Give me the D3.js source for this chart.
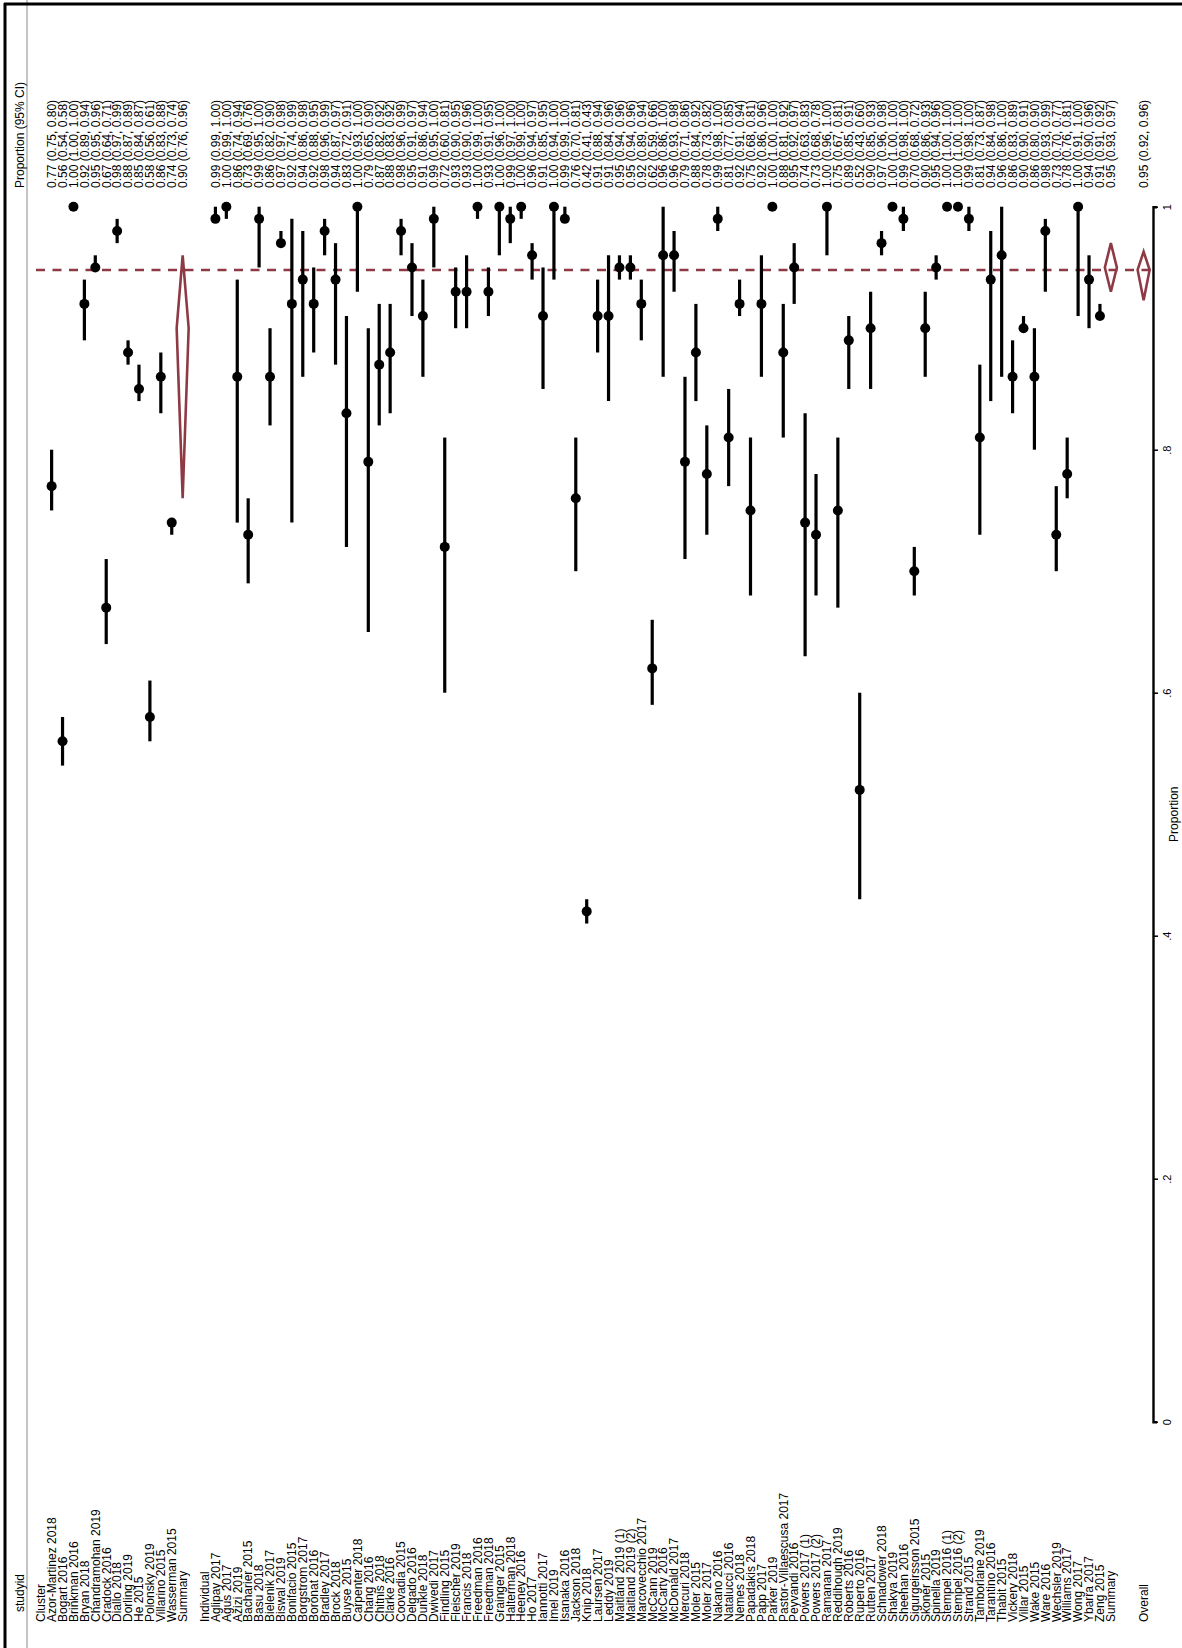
<!DOCTYPE html>
<html>
<head>
<meta charset="utf-8">
<script src="https://cdn.jsdelivr.net/npm/d3@7/dist/d3.min.js"></script>
<style>
    body { margin: 0; background: #ffffff; }
    text { font-family: "Liberation Sans", Arial, Helvetica, sans-serif; fill: #000; }
</style>
</head>
<body>
<div class="forest"></div>
<script>
"use strict";

//
/* Data: */
//

// Cluster trials
var clusterStudies = ["Azor-Martinez 2018", "Bogart 2016", "Brinkman 2016", "Bryan 2018", "Chandramohan 2019",
    "Cradock 2016", "Diallo 2018", "Dorling 2019", "He 2015", "Polonsky 2019", "Villarino 2015", "Wasserman 2015"];
var clusterEs = [0.77, 0.56, 1.00, 0.92, 0.95, 0.67, 0.98, 0.88, 0.85, 0.58, 0.86, 0.74];
var clusterLo = [0.75, 0.54, 1.00, 0.89, 0.95, 0.64, 0.97, 0.87, 0.84, 0.56, 0.83, 0.73];
var clusterHi = [0.80, 0.58, 1.00, 0.94, 0.96, 0.71, 0.99, 0.89, 0.87, 0.61, 0.88, 0.74];
var clusterSummary = [0.90, 0.76, 0.96];

// Individual trials
var individualStudies = ["Aglipay 2017", "Agus 2017", "Azizi 2019", "Bacharier 2015", "Basu 2018", "Bielenik 2017",
    "Biswal 2019", "Bonifacio 2015", "Borgstrom 2017", "Boronat 2016", "Bradley 2017", "Brock 2018", "Buyse 2015",
    "Carpenter 2018", "Chang 2016", "Chitnis 2018", "Clarke 2016", "Coovadia 2015", "Delgado 2016", "Dunkle 2018",
    "Dwivedi 2017", "Findling 2015", "Fleischer 2019", "Francis 2018", "Freedman 2016", "Freedman 2018",
    "Grainger 2015", "Halterman 2018", "Heeney 2016", "Ho 2017", "Iannotti 2017", "Imel 2019", "Isanaka 2016",
    "Jackson 2018", "Knip 2018", "Laursen 2017", "Leddy 2019", "Maitland 2019 (1)", "Maitland 2019 (2)",
    "Marcovecchio 2017", "McCann 2019", "McCarty 2016", "McDonald 2017", "Mercuri 2018", "Moler 2015", "Moler 2017",
    "Nakano 2016", "Natalucci 2016", "Nemes 2018", "Papadakis 2018", "Papp 2017", "Parker 2019",
    "Pastor-Villaescusa 2017", "Peyvandi 2016", "Powers 2017 (1)", "Powers 2017 (2)", "Ramanan 2017",
    "Reddihough 2019", "Roberts 2016", "Ruperto 2016", "Rutten 2017", "Schnadower 2018", "Shakya 2019",
    "Sheehan 2016", "Sigurgeirsson 2015", "Skoner 2015", "Spinella 2019", "Stempel 2016 (1)", "Stempel 2016 (2)",
    "Strand 2015", "Tamborlane 2019", "Tarantino 2016", "Thabit 2015", "Vickery 2018", "Villar 2015", "Wake 2015",
    "Ware 2016", "Wechsler 2019", "Williams 2017", "Wong 2017", "Ybarra 2017", "Zeng 2015"];
var individualEs = [0.99, 1.00, 0.86, 0.73, 0.99, 0.86, 0.97, 0.92, 0.94, 0.92, 0.98, 0.94, 0.83,
    1.00, 0.79, 0.87, 0.88, 0.98, 0.95, 0.91, 0.99, 0.72, 0.93, 0.93, 1.00, 0.93,
    1.00, 0.99, 1.00, 0.96, 0.91, 1.00, 0.99, 0.76, 0.42, 0.91, 0.91, 0.95, 0.95,
    0.92, 0.62, 0.96, 0.96, 0.79, 0.88, 0.78, 0.99, 0.81, 0.92, 0.75, 0.92, 1.00,
    0.88, 0.95, 0.74, 0.73, 1.00, 0.75, 0.89, 0.52, 0.90, 0.97, 1.00, 0.99, 0.70,
    0.90, 0.95, 1.00, 1.00, 0.99, 0.81, 0.94, 0.96, 0.86, 0.90, 0.86, 0.98, 0.73,
    0.78, 1.00, 0.94, 0.91];
var individualLo = [0.99, 0.99, 0.74, 0.69, 0.95, 0.82, 0.97, 0.74, 0.86, 0.88, 0.96, 0.87, 0.72,
    0.93, 0.65, 0.82, 0.83, 0.96, 0.91, 0.86, 0.95, 0.60, 0.90, 0.90, 0.99, 0.91,
    0.96, 0.97, 0.99, 0.94, 0.85, 0.94, 0.99, 0.70, 0.41, 0.88, 0.84, 0.94, 0.94,
    0.89, 0.59, 0.86, 0.93, 0.71, 0.84, 0.73, 0.98, 0.77, 0.91, 0.68, 0.86, 1.00,
    0.81, 0.92, 0.63, 0.68, 0.96, 0.67, 0.85, 0.43, 0.85, 0.96, 1.00, 0.98, 0.68,
    0.86, 0.94, 1.00, 1.00, 0.98, 0.73, 0.84, 0.86, 0.83, 0.90, 0.80, 0.93, 0.70,
    0.76, 0.91, 0.90, 0.91];
var individualHi = [1.00, 1.00, 0.94, 0.76, 1.00, 0.90, 0.98, 0.99, 0.98, 0.95, 0.99, 0.97, 0.91,
    1.00, 0.90, 0.92, 0.92, 0.99, 0.97, 0.94, 1.00, 0.81, 0.95, 0.96, 1.00, 0.95,
    1.00, 1.00, 1.00, 0.97, 0.95, 1.00, 1.00, 0.81, 0.43, 0.94, 0.96, 0.96, 0.96,
    0.94, 0.66, 1.00, 0.98, 0.86, 0.92, 0.82, 1.00, 0.85, 0.94, 0.81, 0.96, 1.00,
    0.92, 0.97, 0.83, 0.78, 1.00, 0.81, 0.91, 0.60, 0.93, 0.98, 1.00, 1.00, 0.72,
    0.93, 0.96, 1.00, 1.00, 1.00, 0.87, 0.98, 1.00, 0.89, 0.91, 0.90, 0.99, 0.77,
    0.81, 1.00, 0.96, 0.92];
var individualSummary = [0.95, 0.93, 0.97];

var overallSummary = [0.948, 0.923, 0.963];

var tickValues = [0, 0.2, 0.4, 0.6, 0.8, 1];
var tickLabels = ["0", ".2", ".4", ".6", ".8", "1"];

//
/* Layout */
//
var svgWidth = 1182;
var svgHeight = 1648;
var red = "#8e3a45";

var fmt = d3.format(".2f");

// build one list of rows, left to right
var rows = [];
rows.push({ label: "Cluster", type: "header" });
clusterStudies.forEach(function(s, i) {
    rows.push({ label: s, type: "study", es: clusterEs[i], lo: clusterLo[i], hi: clusterHi[i] });
});
rows.push({ label: "Summary", type: "summary", es: clusterSummary[0], lo: clusterSummary[1], hi: clusterSummary[2] });
rows.push({ label: "", type: "blank" });
rows.push({ label: "Individual", type: "header" });
individualStudies.forEach(function(s, i) {
    rows.push({ label: s, type: "study", es: individualEs[i], lo: individualLo[i], hi: individualHi[i] });
});
rows.push({ label: "Summary", type: "summary", es: individualSummary[0], lo: individualSummary[1], hi: individualSummary[2] });
rows.push({ label: "", type: "blank" });
rows.push({ label: "", type: "blank" });
rows.push({ label: "Overall", type: "summary", es: overallSummary[0], lo: overallSummary[1], hi: overallSummary[2] });

rows.forEach(function(d, i) { d.row = i; });

var x = d3.scaleLinear()
            .domain([0, rows.length - 1])
            .range([40.7, 40.7 + (rows.length - 1) * 10.92]);

var y = d3.scaleLinear()
            .domain([0, 1])
            .range([1421.7, 206.7]);

var svg = d3.select(".forest").append("svg")
            .attr("width", svgWidth)
            .attr("height", svgHeight);

svg.append("rect")
    .attr("width", svgWidth)
    .attr("height", svgHeight)
    .attr("fill", "#fff");

// frame lines
svg.append("line")
    .attr("x1", 27).attr("x2", 27).attr("y1", 0).attr("y2", svgHeight)
    .attr("stroke", "#c4c4c4").attr("stroke-width", 2);
svg.append("line")
    .attr("x1", 5).attr("x2", 5).attr("y1", 3).attr("y2", svgHeight)
    .attr("stroke", "#000").attr("stroke-width", 3);
svg.append("line")
    .attr("x1", 4).attr("x2", svgWidth).attr("y1", 4).attr("y2", 4)
    .attr("stroke", "#000").attr("stroke-width", 3);

// headers
svg.append("text")
    .attr("transform", "translate(24,188) rotate(-90)")
    .attr("font-size", "12px")
    .text("Proportion (95% CI)");
svg.append("text")
    .attr("transform", "translate(24,1612) rotate(-90)")
    .attr("font-size", "12px")
    .text("studyid");

// study labels
svg.selectAll(".label")
    .data(rows.filter(function(d) { return d.label !== ""; }))
    .enter()
    .append("text")
    .attr("class", "label")
    .attr("transform", function(d) { return "translate(" + (x(d.row) + 4.3) + ",1622) rotate(-90)"; })
    .attr("font-size", "12px")
    .text(function(d) { return d.label; });

// estimate text
svg.selectAll(".estText")
    .data(rows.filter(function(d) { return d.type === "study" || d.type === "summary"; }))
    .enter()
    .append("text")
    .attr("class", "estText")
    .attr("transform", function(d) { return "translate(" + (x(d.row) + 4.3) + ",188) rotate(-90)"; })
    .attr("font-size", "12px")
    .text(function(d) { return fmt(d.es) + " (" + fmt(d.lo) + ", " + fmt(d.hi) + ")"; });

// overall dashed line
svg.append("line")
    .attr("x1", 36)
    .attr("x2", 1153)
    .attr("y1", y(overallSummary[0]))
    .attr("y2", y(overallSummary[0]))
    .attr("stroke", red)
    .attr("stroke-width", 2.5)
    .attr("stroke-dasharray", "9,7.5");

var studies = rows.filter(function(d) { return d.type === "study"; });

// CI lines
svg.selectAll(".ci")
    .data(studies)
    .enter()
    .append("line")
    .attr("class", "ci")
    .attr("x1", function(d) { return x(d.row); })
    .attr("x2", function(d) { return x(d.row); })
    .attr("y1", function(d) { return y(d.lo); })
    .attr("y2", function(d) { return y(d.hi); })
    .attr("stroke", "#000")
    .attr("stroke-width", 3.2);

// point estimates
svg.selectAll(".dot")
    .data(studies)
    .enter()
    .append("circle")
    .attr("class", "dot")
    .attr("cx", function(d) { return x(d.row); })
    .attr("cy", function(d) { return y(d.es); })
    .attr("r", 5)
    .attr("fill", "#000");

// summary diamonds
svg.selectAll(".diamond")
    .data(rows.filter(function(d) { return d.type === "summary"; }))
    .enter()
    .append("path")
    .attr("class", "diamond")
    .attr("d", function(d) {
        var cx = x(d.row);
        return "M" + cx + "," + y(d.hi) + "L" + (cx + 6) + "," + y(d.es) +
               "L" + cx + "," + y(d.lo) + "L" + (cx - 6) + "," + y(d.es) + "Z";
    })
    .attr("fill", "none")
    .attr("stroke", red)
    .attr("stroke-width", 2.6)
    .attr("stroke-linejoin", "miter");

// proportion axis
var axis = d3.axisRight(y)
            .tickValues(tickValues)
            .tickFormat(function(d, i) { return tickLabels[i]; })
            .tickSize(5)
            .tickSizeOuter(4);

var axisG = svg.append("g")
            .attr("class", "yAxis")
            .attr("transform", "translate(1153,0)")
            .call(axis);

axisG.select(".domain").attr("stroke-width", 2.4);
axisG.selectAll(".tick line").attr("stroke-width", 1.5);
axisG.selectAll(".tick text")
    .attr("x", null)
    .attr("dy", null)
    .attr("transform", "translate(18,0) rotate(-90)")
    .attr("text-anchor", "middle")
    .attr("font-size", "11px")
    .attr("font-family", "Liberation Sans, Arial, sans-serif");

svg.append("text")
    .attr("transform", "translate(1178," + y(0.5) + ") rotate(-90)")
    .attr("text-anchor", "middle")
    .attr("font-size", "12px")
    .text("Proportion");
</script>
</body>
</html>
